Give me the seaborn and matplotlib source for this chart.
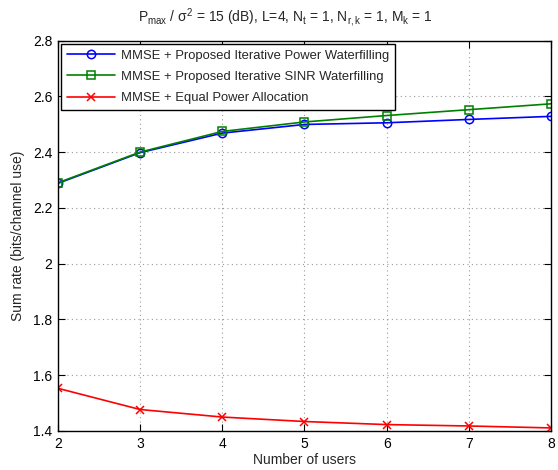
import matplotlib
matplotlib.use("Agg")
import matplotlib.pyplot as plt
import seaborn as sns
import numpy as np
import pandas as pd
from matplotlib.ticker import FuncFormatter

users = [2, 3, 4, 5, 6, 7, 8]
power_wf = [2.288, 2.398, 2.468, 2.499, 2.505, 2.517, 2.528]
sinr_wf = [2.290, 2.400, 2.474, 2.508, 2.531, 2.552, 2.573]
equal_pa = [1.553, 1.477, 1.450, 1.434, 1.423, 1.418, 1.411]

labels = ["MMSE + Proposed Iterative Power Waterfilling",
          "MMSE + Proposed Iterative SINR Waterfilling",
          "MMSE + Equal Power Allocation"]
x_ticks = [2, 3, 4, 5, 6, 7, 8]
y_ticks = [1.4, 1.6, 1.8, 2.0, 2.2, 2.4, 2.6, 2.8]

sns.set_style("white")
plt.rcParams['font.family'] = ['Liberation Sans', 'DejaVu Sans']
plt.rcParams['mathtext.fontset'] = 'custom'
plt.rcParams['mathtext.rm'] = 'Liberation Sans'
plt.rcParams['mathtext.it'] = 'Liberation Sans:italic'
plt.rcParams['mathtext.bf'] = 'Liberation Sans:bold'

fig = plt.figure(figsize=(5.58, 4.70), dpi=100)
ax = fig.add_axes([58/558, 1 - 431/470, (551-58)/558, (431-40.5)/470])

series = [(power_wf, '#0000ff', 'o'), (sinr_wf, '#008000', 's'), (equal_pa, '#ff0000', 'x')]
for (vals, col, mk), lab in zip(series, labels):
    df = pd.DataFrame({"users": users, "rate": vals})
    sns.lineplot(data=df, x="users", y="rate", ax=ax, color=col, marker=mk,
                 markersize=6 if mk != 'x' else 5.5,
                 markerfacecolor='none', markeredgecolor=col,
                 markeredgewidth=1.1, linewidth=1.2, label=lab)

ax.set_xlim(2, 8)
ax.set_ylim(1.4, 2.8)
ax.set_xticks(x_ticks)
ax.set_yticks(y_ticks)
ax.yaxis.set_major_formatter(FuncFormatter(lambda v, p: f"{v:g}"))
ax.grid(True, linestyle=(0, (1, 3)), color='0.6', linewidth=0.8)
for s in ax.spines.values():
    s.set_visible(True)
    s.set_color('black')
    s.set_linewidth(1.0)
ax.tick_params(direction='in', length=5, width=0.8, top=True, right=True,
               bottom=True, left=True, labelsize=10, colors='black', pad=4)
ax.set_xlabel("Number of users", fontsize=10, labelpad=2)
ax.set_ylabel("Sum rate (bits/channel use)", fontsize=10, labelpad=6)

leg = ax.legend(loc='upper left', bbox_to_anchor=(0.0, 1.0), fontsize=9.4,
                frameon=True, fancybox=False, edgecolor='black',
                borderpad=0.45, labelspacing=0.7, handlelength=3.7,
                handletextpad=0.45, borderaxespad=0.25)
leg.get_frame().set_linewidth(1.0)
leg.get_frame().set_alpha(1)

fig.text(285/558, 1 - 18/470,
         r'$\mathregular{P_{max}}$ / $\mathregular{\sigma^2}$ = 15 (dB), L=4, N$\mathregular{_t}$ = 1, N$\mathregular{_{r,k}}$ = 1, M$\mathregular{_k}$ = 1',
         ha='center', va='center', fontsize=10)

fig.savefig("out.png", dpi=100)
